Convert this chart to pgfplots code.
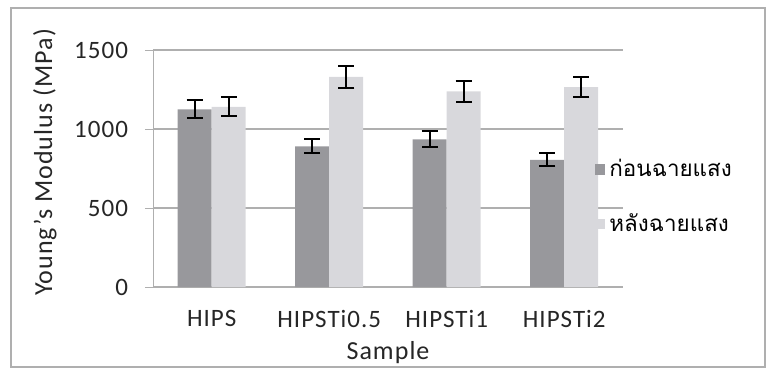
\documentclass[border=0pt]{standalone}
\usepackage{pgfplots}
\pgfplotsset{compat=1.18}
\usepackage{fontspec}
\setmainfont{Carlito}[LetterSpace=4]
\newfontfamily\thaifont[Script=Thai]{Loma}
\definecolor{darkbar}{RGB}{152,152,156}
\definecolor{lightbar}{RGB}{216,216,220}
\definecolor{gridc}{RGB}{175,175,175}
\begin{document}
\begin{tikzpicture}
\path[use as bounding box] (0,0) rectangle (383pt,188pt);
\draw[gridc, line width=0.6pt] (5.5pt,4.5pt) rectangle (382.5pt,184pt);
\begin{axis}[
  at={(76.5pt,44.5pt)}, anchor=south west,
  scale only axis, width=235pt, height=118.5pt,
  ymin=0, ymax=1500, xmin=-0.5, xmax=3.5,
  ytick={0,500,1000,1500},
  xtick={0,1,2,3},
  xticklabels={HIPS,HIPSTi0.5,HIPSTi1,HIPSTi2},
  axis x line*=bottom, axis y line*=left,
  axis line style={gridc, -},
  ymajorgrids, major grid style={gridc, line width=0.6pt},
  major y tick style={gridc}, tick align=outside, major tick length=4pt,
  major x tick style={draw=none},
  /pgf/number format/assume math mode=true,
  /pgf/number format/1000 sep={},
  tick label style={font=\fontsize{12.5}{14}\selectfont, text=black!85},
  yticklabel style={xshift=-5pt},
  xticklabel style={yshift=-4pt},
  ylabel={Young’s Modulus (MPa)},
  xlabel={Sample},
  label style={font=\fontsize{13}{15}\selectfont, text=black!85},
  ylabel style={yshift=2pt, xshift=3pt},
  xlabel style={yshift=0pt},
  ybar=0pt, bar width=17pt,
  error bars/y dir=both, error bars/y explicit,
  error bars/error mark options={rotate=90, mark size=4pt, line width=1pt, black},
  error bars/error bar style={line width=1pt, black},
  legend style={draw=none, fill=none, at={(0.94,0.38)}, anchor=west,
    font=\thaifont\fontsize{11.2}{12}\selectfont, row sep=13pt,
    legend cell align=left, inner sep=0pt},
  legend image code/.code={\draw[#1, draw=none] (0cm,-0.09cm) rectangle (0.18cm,0.09cm);},
]
\addplot[fill=darkbar, draw=none] coordinates {
  (0,1125) +- (0,58)
  (1,890) +- (0,45)
  (2,935) +- (0,50)
  (3,805) +- (0,42)
};
\addplot[fill=lightbar, draw=none] coordinates {
  (0,1140) +- (0,60)
  (1,1330) +- (0,68)
  (2,1238) +- (0,65)
  (3,1265) +- (0,65)
};
\legend{ก่อนฉายแสง, หลังฉายแสง}
\end{axis}
\end{tikzpicture}
\end{document}
